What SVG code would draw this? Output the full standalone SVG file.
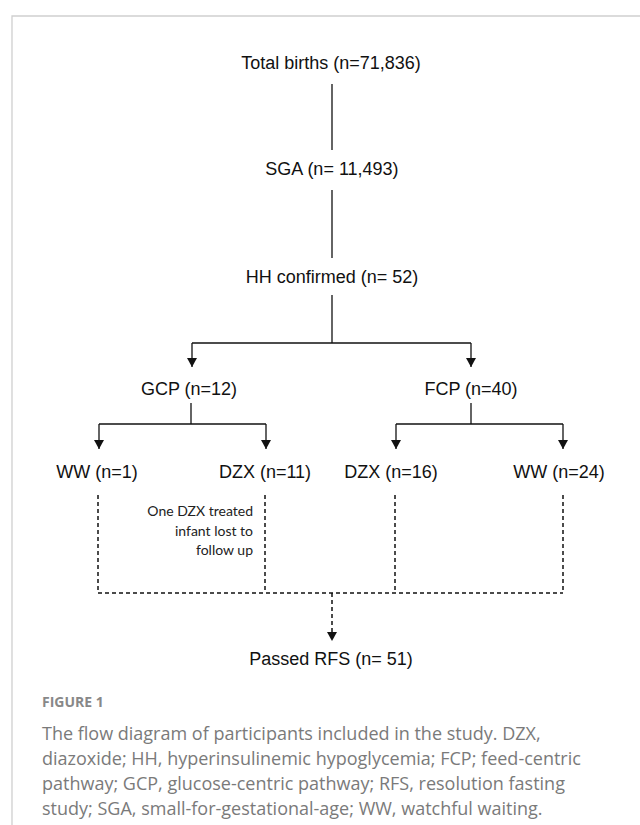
<svg xmlns="http://www.w3.org/2000/svg" width="640" height="825" viewBox="0 0 640 825">
<style>
.n{font-family:"Liberation Sans",Arial,sans-serif;font-size:18px;fill:#111;text-anchor:middle}
.s{font-family:Lato,"Open Sans",sans-serif;font-size:14px;fill:#222;text-anchor:end}
.c{font-family:"Open Sans","Noto Sans",sans-serif;font-size:18px;fill:#7a7a7a}
.f{font-family:"Open Sans","Noto Sans",sans-serif;font-size:14px;font-weight:700;fill:#888}
.l{stroke:#111;stroke-width:1.3;fill:none}
.d{stroke:#111;stroke-width:1.5;fill:none;stroke-dasharray:4 3}
</style>
<defs>
<marker id="ah" markerWidth="10" markerHeight="10" refX="9" refY="5" orient="auto" markerUnits="userSpaceOnUse">
<path d="M0,0 L9,5 L0,10 Z" fill="#111"/>
</marker>
</defs>
<rect width="640" height="825" fill="#fff"/>
<path d="M12,825 V16 H640" stroke="#cfcfcf" stroke-width="1.3" fill="none"/>
<g id="connectors">
<line class="l" x1="332" y1="84" x2="332" y2="150"/>
<line class="l" x1="332" y1="190" x2="332" y2="258"/>
<line class="l" x1="332" y1="295" x2="332" y2="343"/>
<line class="l" x1="192" y1="343" x2="471" y2="343"/>
<line class="l" x1="192" y1="343" x2="192" y2="367" marker-end="url(#ah)"/>
<line class="l" x1="471" y1="343" x2="471" y2="367" marker-end="url(#ah)"/>
<line class="l" x1="191" y1="403" x2="191" y2="424"/>
<line class="l" x1="99" y1="424" x2="266" y2="424"/>
<line class="l" x1="99" y1="424" x2="99" y2="449" marker-end="url(#ah)"/>
<line class="l" x1="266" y1="424" x2="266" y2="449" marker-end="url(#ah)"/>
<line class="l" x1="471" y1="403" x2="471" y2="424"/>
<line class="l" x1="396" y1="424" x2="563" y2="424"/>
<line class="l" x1="396" y1="424" x2="396" y2="449" marker-end="url(#ah)"/>
<line class="l" x1="563" y1="424" x2="563" y2="449" marker-end="url(#ah)"/>
<line class="d" x1="98" y1="495" x2="98" y2="593"/>
<line class="d" x1="265" y1="495" x2="265" y2="593"/>
<line class="d" x1="395" y1="495" x2="395" y2="593"/>
<line class="d" x1="563" y1="495" x2="563" y2="593"/>
<line class="d" x1="98" y1="593" x2="563" y2="593"/>
<line class="d" x1="332" y1="593" x2="332" y2="641" marker-end="url(#ah)"/>
</g>
<g id="total"><text class="n" x="331" y="69">Total births (n=71,836)</text></g>
<g id="sga"><text class="n" x="332" y="175">SGA (n= 11,493)</text></g>
<g id="hh"><text class="n" x="332" y="283">HH confirmed (n= 52)</text></g>
<g id="gcp"><text class="n" x="189" y="395">GCP (n=12)</text></g>
<g id="fcp"><text class="n" x="471" y="395">FCP (n=40)</text></g>
<g id="ww1"><text class="n" x="97" y="478">WW (n=1)</text></g>
<g id="dzx11"><text class="n" x="265" y="478">DZX (n=11)</text></g>
<g id="dzx16"><text class="n" x="391" y="478">DZX (n=16)</text></g>
<g id="ww24"><text class="n" x="559" y="478">WW (n=24)</text></g>
<g id="note"><text class="s" y="516"><tspan x="253">One DZX treated</tspan><tspan x="253" dy="19.5">infant lost to</tspan><tspan x="253" dy="19.5">follow up</tspan></text></g>
<g id="rfs"><text class="n" x="331" y="665">Passed RFS (n= 51)</text></g>
<g id="caption">
<text class="f" x="42" y="707">FIGURE 1</text>
<text class="c" x="42" y="740">The flow diagram of participants included in the study. DZX,</text>
<text class="c" x="42" y="765">diazoxide; HH, hyperinsulinemic hypoglycemia; FCP; feed-centric</text>
<text class="c" x="42" y="790">pathway; GCP, glucose-centric pathway; RFS, resolution fasting</text>
<text class="c" x="42" y="815">study; SGA, small-for-gestational-age; WW, watchful waiting.</text>
</g>
</svg>
